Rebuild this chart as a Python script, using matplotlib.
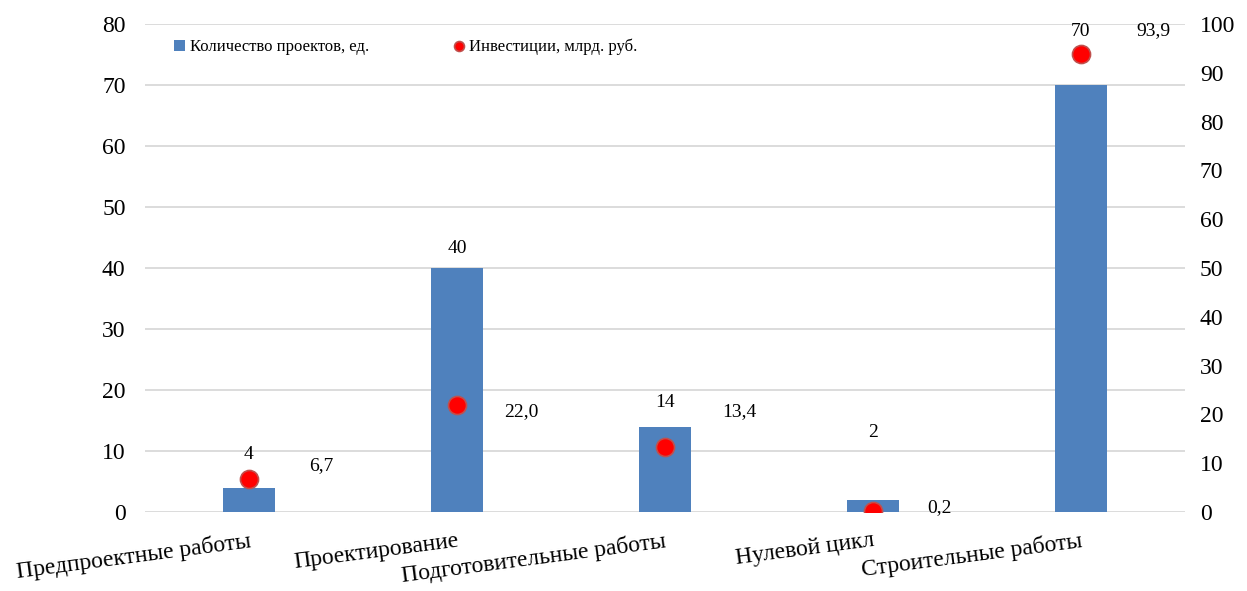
import matplotlib.pyplot as plt
import numpy as np

plt.rcParams['font.family'] = ['Liberation Serif', 'DejaVu Serif']

categories = ['Предпроектные работы', 'Проектирование', 'Подготовительные работы',
              'Нулевой цикл', 'Строительные работы']
projects = [4, 40, 14, 2, 70]
investments = [6.7, 22.0, 13.4, 0.2, 93.9]

# label offsets in pixels (placed by hand in the original)
proj_offsets = [(0, 33), (0, 19), (0, 24), (0, 67), (0, 53)]
inv_offsets = [(72, 14), (64, -7), (75, 35), (67, 3), (73, 23)]

bar_color = '#4F81BD'
grid_color = '#D9D9D9'

fig = plt.figure(figsize=(12.47, 5.91), dpi=100)
ax = fig.add_axes([0.1163, 0.1337, 0.8337, 0.8257])
ax2 = ax.twinx()

x = np.arange(len(categories))
ax.bar(x, projects, width=0.25, color=bar_color, label='Количество проектов, ед.', zorder=2)
ax2.plot(x, investments, 'o', color='red', markeredgecolor='#C0504D', markeredgewidth=1.2,
         markersize=13, label='Инвестиции, млрд. руб.', zorder=3)

for xi, v, off in zip(x, projects, proj_offsets):
    ax.annotate(f'{v}', (xi, v), xytext=off, textcoords='offset pixels',
                ha='center', va='center', fontsize=14)
for xi, v, off in zip(x, investments, inv_offsets):
    ax2.annotate(f'{v:.1f}'.replace('.', ','), (xi, v), xytext=off, textcoords='offset pixels',
                 ha='center', va='center', fontsize=14)

ax.set_xlim(-0.5, 4.5)
ax.set_ylim(0, 80)
ax2.set_ylim(0, 100)
ax.set_yticks(range(0, 81, 10))
ax2.set_yticks(range(0, 101, 10))
ax.yaxis.grid(True, color=grid_color, linewidth=1.3, zorder=0)
ax.set_axisbelow(True)

for a in (ax, ax2):
    for s in a.spines.values():
        s.set_visible(False)
    a.tick_params(length=0, labelsize=17)
ax.tick_params(axis='y', pad=14)
ax2.tick_params(axis='y', pad=11)

ax.set_xticks(x)
ax.set_xticklabels(categories, rotation=7.5, ha='right', rotation_mode='anchor', fontsize=17)
ax.tick_params(axis='x', pad=13)

h1, l1 = ax.get_legend_handles_labels()
h2, l2 = ax2.get_legend_handles_labels()
ax2.legend(h1 + h2, l1 + l2, loc='upper left', bbox_to_anchor=(0.013, 1.0), ncol=2,
           frameon=False, fontsize=12, columnspacing=5.0, handlelength=0.7,
           handletextpad=0.3, markerscale=0.55)

fig.savefig('out.png', dpi=100)
